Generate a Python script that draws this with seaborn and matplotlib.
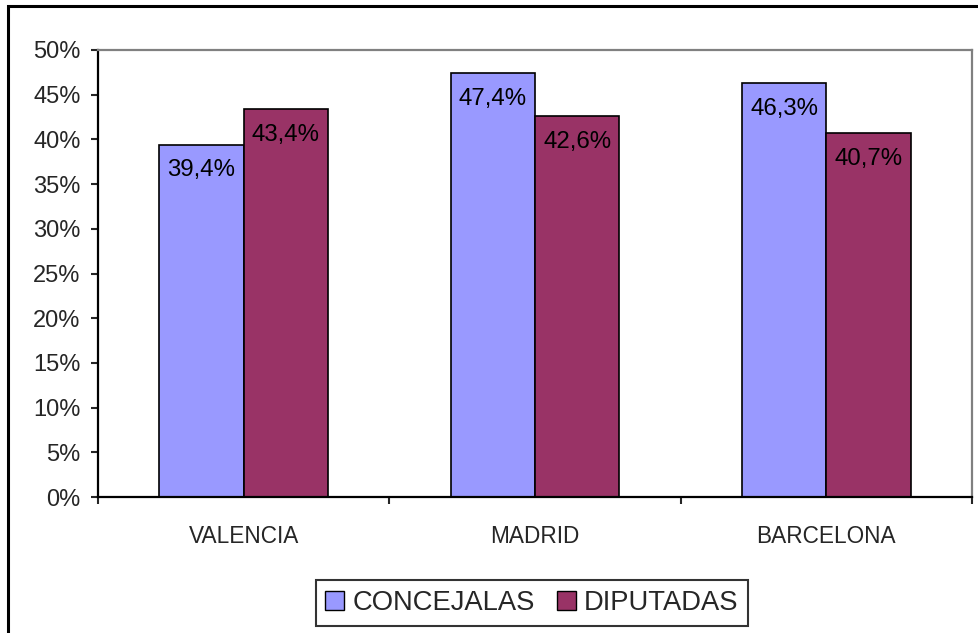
import pandas as pd
import matplotlib.pyplot as plt
import seaborn as sns
from matplotlib.patches import Rectangle, Patch
from matplotlib.ticker import FixedLocator

# data
ciudades = ["VALENCIA", "MADRID", "BARCELONA"]
concejalas = [39.4, 47.4, 46.3]
diputadas = [43.4, 42.6, 40.7]
series = ["CONCEJALAS", "DIPUTADAS"]
colores = ["#9999FF", "#993366"]

df = pd.DataFrame({
    "ciudad": ciudades * 2,
    "serie": [series[0]] * 3 + [series[1]] * 3,
    "valor": concejalas + diputadas,
})

sns.set_style("white")
plt.rcParams["font.family"] = ["Liberation Sans", "DejaVu Sans"]

fig = plt.figure(figsize=(9.79, 6.33), dpi=100)
ax = fig.add_axes([98 / 979, 1 - 497 / 633, (972 - 98) / 979, (497 - 50) / 633])

sns.barplot(data=df, x="ciudad", y="valor", hue="serie", palette=colores,
            width=0.58, gap=0, edgecolor="black", linewidth=1.2,
            saturation=1, legend=False, ax=ax)

# value labels inside the bars
for cont in ax.containers:
    for bar in cont:
        h = bar.get_height()
        ax.annotate(f"{h:.1f}%".replace(".", ","),
                    (bar.get_x() + bar.get_width() / 2, h),
                    xytext=(0, -18.5), textcoords="offset points",
                    ha="center", va="center", fontsize=17.3, color="black")

ax.set_ylim(0, 50)
ax.set_xlim(-0.5, 2.5)
ax.set_yticks(range(0, 51, 5))
ax.set_yticklabels([f"{v}%" for v in range(0, 51, 5)], fontsize=17)
ax.set_xticks(range(3))
ax.set_xticklabels(ciudades, fontsize=16.3)
ax.set_xlabel("")
ax.set_ylabel("")

ax.tick_params(axis="y", length=5, width=1.5, direction="out", pad=7.5, left=True)
ax.tick_params(axis="x", which="major", length=0, pad=20)
ax.xaxis.set_minor_locator(FixedLocator([-0.5, 0.5, 1.5, 2.5]))
ax.tick_params(axis="x", which="minor", length=5, width=1.5, direction="out", bottom=True)

for side in ["left", "bottom"]:
    ax.spines[side].set_color("black")
    ax.spines[side].set_linewidth(1.6)
for side in ["top", "right"]:
    ax.spines[side].set_color("#808080")
    ax.spines[side].set_linewidth(1.6)

handles = [Patch(facecolor=c, edgecolor="black", linewidth=1) for c in colores]
leg = fig.legend(handles, series, loc="center", bbox_to_anchor=(532 / 979, 1 - 603 / 633),
                 ncol=2, fontsize=19.7, frameon=True, fancybox=False,
                 handlelength=0.7, handleheight=0.7, handletextpad=0.3,
                 columnspacing=0.8, borderpad=0.35)
leg.get_frame().set_edgecolor("black")
leg.get_frame().set_linewidth(1.5)

# outer frame of the chart
fig.patches.append(Rectangle((8 / 979, -0.1), 1.1, 1 - 6 / 633 + 0.1,
                             transform=fig.transFigure, fill=False,
                             edgecolor="black", linewidth=2.2))

fig.savefig("out.png", dpi=100)
